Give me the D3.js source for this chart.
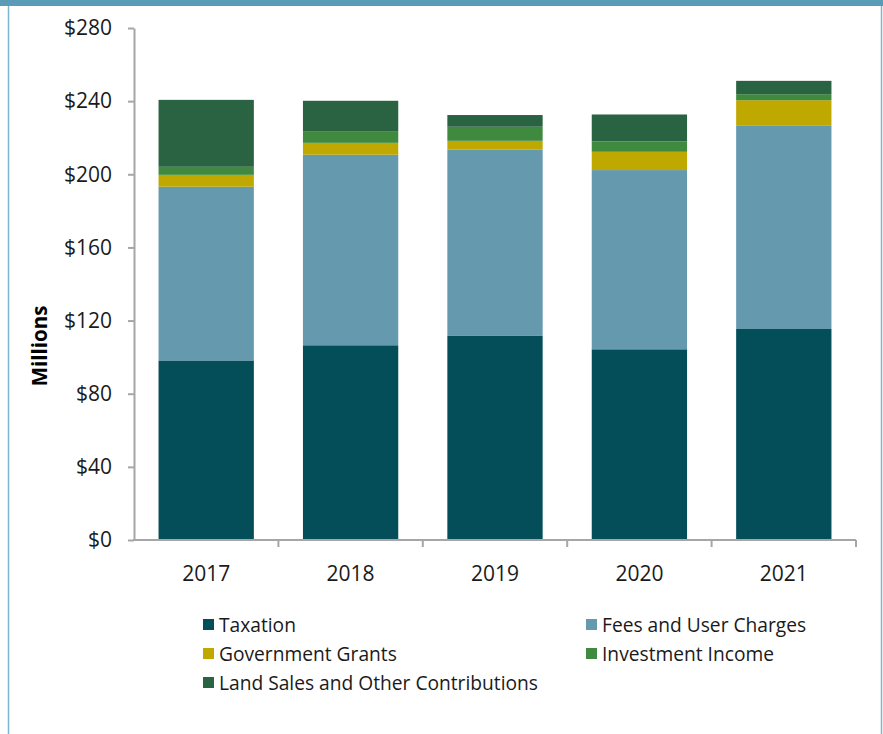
<!DOCTYPE html>
<html>
<head>
<meta charset="utf-8">
<script src="https://cdn.jsdelivr.net/npm/d3@7/dist/d3.min.js"></script>
<style>
  html, body { margin: 0; padding: 0; background: #fff; }
  svg { display: block; font-variant-ligatures: none; }
</style>
</head>
<body>
<svg id="chart" width="883" height="734"></svg>
<script>
// Revenue by source, $ millions
const years = ["2017", "2018", "2019", "2020", "2021"];
const seriesNames = ["Taxation", "Fees and User Charges", "Government Grants", "Investment Income", "Land Sales and Other Contributions"];
const taxation      = [98.2, 106.5, 111.6, 104.3, 115.4];
const feesCharges   = [95.0, 104.2, 102.0, 98.0, 111.1];
const govGrants     = [6.5, 6.5, 4.7, 10.0, 14.0];
const investment    = [4.4, 6.1, 7.7, 5.7, 3.3];
const landSales     = [36.6, 16.9, 6.4, 14.7, 7.3];
const yTicks = [0, 40, 80, 120, 160, 200, 240, 280];
const colors = ["#034e59", "#6499ae", "#bfa800", "#3f8a3f", "#2a6342"];

const seriesValues = [taxation, feesCharges, govGrants, investment, landSales];
const rows = years.map((y, i) => {
  const r = { year: y };
  seriesNames.forEach((n, k) => { r[n] = seriesValues[k][i]; });
  return r;
});

const svg = d3.select("#chart");
const font = "'Open Sans', 'Noto Sans', sans-serif";

// frame
svg.append("rect").attr("x", 0).attr("y", 0).attr("width", 883).attr("height", 6).attr("fill", "#5a9cb8");
svg.append("line").attr("x1", 8.5).attr("x2", 8.5).attr("y1", 6).attr("y2", 734).attr("stroke", "#7fb6cf").attr("stroke-width", 1.5);
svg.append("line").attr("x1", 881.5).attr("x2", 881.5).attr("y1", 6).attr("y2", 734).attr("stroke", "#7fb6cf").attr("stroke-width", 1.5);

const x = d3.scaleBand().domain(years).range([134, 856]).paddingInner(0.34).paddingOuter(0.17);
const y = d3.scaleLinear().domain([0, 280]).range([540, 28]);

const stack = d3.stack().keys(seriesNames)(rows);

svg.append("g").selectAll("g").data(stack).join("g")
  .attr("fill", (d, i) => colors[i])
  .selectAll("rect").data(d => d).join("rect")
  .attr("x", d => x(d.data.year))
  .attr("width", x.bandwidth())
  .attr("y", d => y(d[1]))
  .attr("height", d => y(d[0]) - y(d[1]));

// y axis
const yAxis = svg.append("g").attr("transform", "translate(134,0)")
  .call(d3.axisLeft(y).tickValues(yTicks).tickFormat(d => "$" + d).tickSize(6).tickSizeOuter(0).tickPadding(16));
yAxis.select(".domain").attr("stroke", "#a6a6a6").attr("stroke-width", 2);
yAxis.selectAll(".tick line").attr("stroke", "#a6a6a6").attr("stroke-width", 2);
yAxis.selectAll("text").attr("font-family", font).attr("font-size", 21).attr("fill", "#1a1a1a");

// x axis with ticks at category boundaries
const xAxis = svg.append("g").attr("transform", "translate(0,540)");
xAxis.append("line").attr("x1", 133).attr("x2", 856).attr("y1", 0).attr("y2", 0)
  .attr("stroke", "#a6a6a6").attr("stroke-width", 2);
const step = x.step();
const bounds = years.map(yr => x(yr) + x.bandwidth() / 2 + step / 2);
xAxis.selectAll("line.tk").data(bounds).join("line").attr("class", "tk")
  .attr("x1", d => d).attr("x2", d => d).attr("y1", 0).attr("y2", 7)
  .attr("stroke", "#a6a6a6").attr("stroke-width", 2);
xAxis.selectAll("text").data(years).join("text")
  .attr("x", d => x(d) + x.bandwidth() / 2).attr("y", 41)
  .attr("text-anchor", "middle").attr("font-family", font).attr("font-size", 21).attr("fill", "#1a1a1a")
  .text(d => d);

// y axis title
svg.append("text").attr("transform", "translate(47,346) rotate(-90)")
  .attr("text-anchor", "middle").attr("font-family", font).attr("font-size", 20.5).attr("font-weight", "bold")
  .attr("fill", "#000").text("Millions");

// legend
const legendPos = [[203, 625], [586, 625], [203, 654], [586, 654], [203, 683]];
const lg = svg.append("g").selectAll("g").data(seriesNames).join("g")
  .attr("transform", (d, i) => `translate(${legendPos[i][0]},${legendPos[i][1]})`);
lg.append("rect").attr("x", 0).attr("y", -6).attr("width", 11).attr("height", 11).attr("fill", (d, i) => colors[i]);
lg.append("text").attr("x", 16).attr("y", 0).attr("dy", "0.36em")
  .attr("font-family", font).attr("font-size", 19.2).attr("fill", "#1a1a1a").text(d => d);
</script>
</body>
</html>
